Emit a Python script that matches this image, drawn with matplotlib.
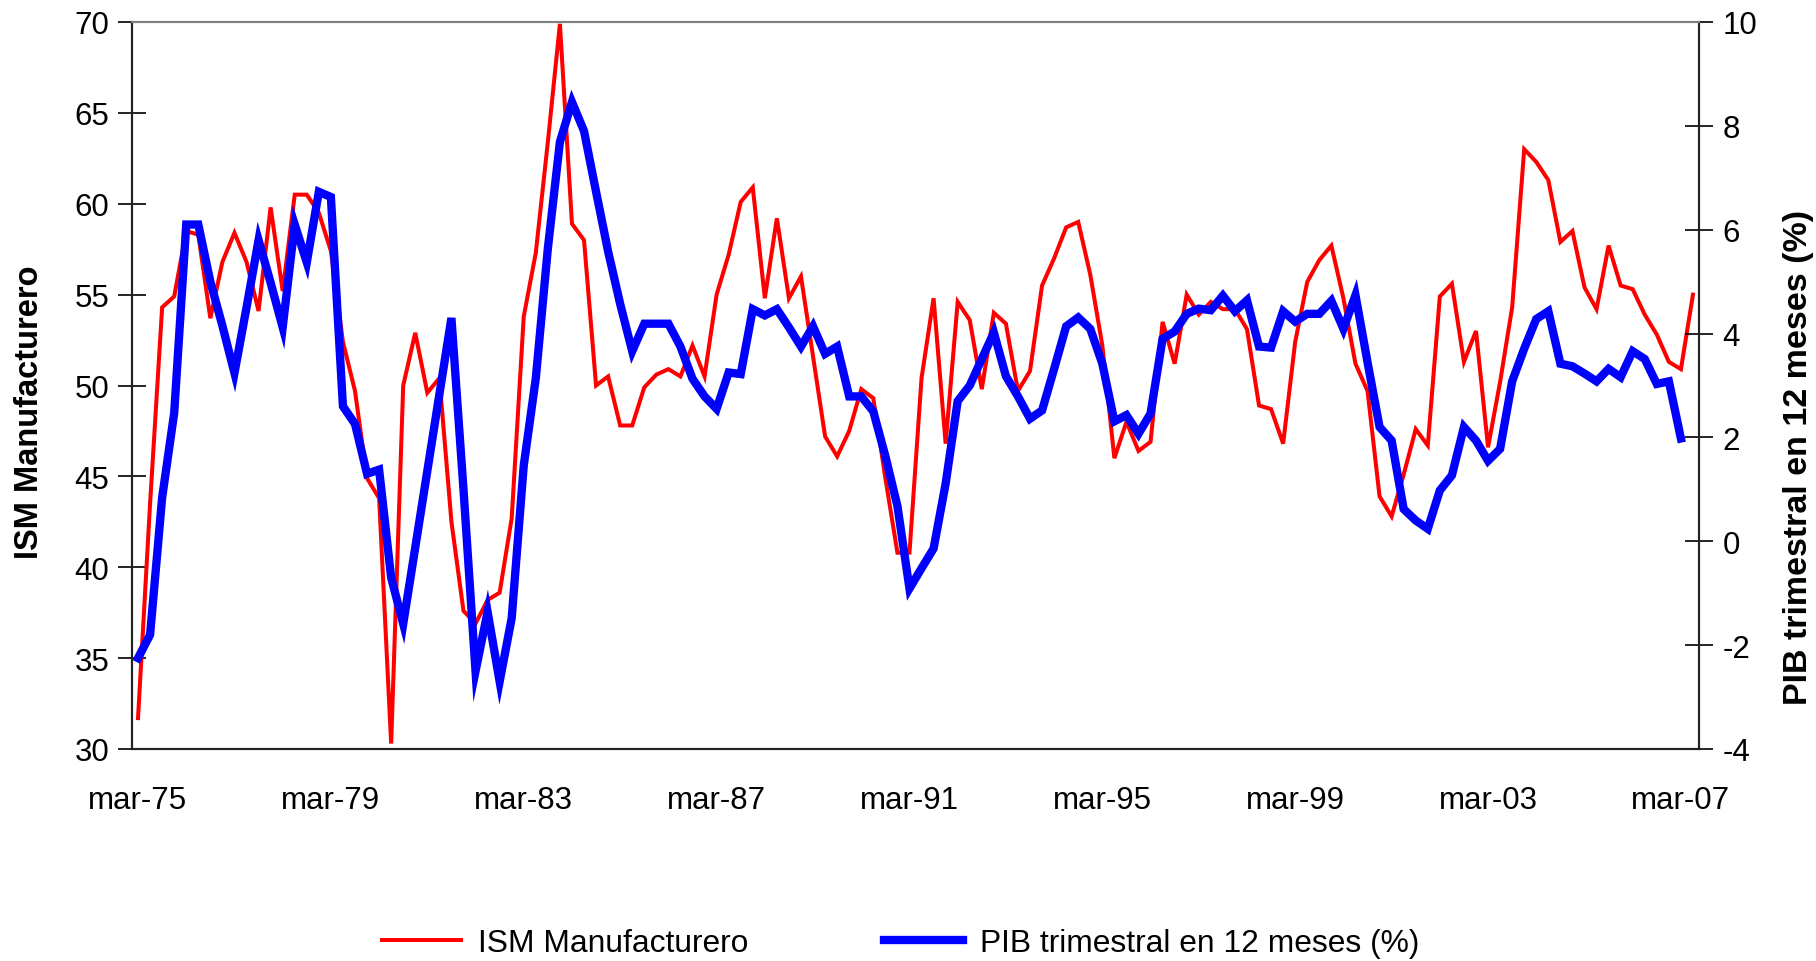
import numpy as np
import matplotlib
matplotlib.use("Agg")
import matplotlib.pyplot as plt
from matplotlib.ticker import FuncFormatter

plt.rcParams['font.family'] = ['Liberation Sans', 'DejaVu Sans']

# Quarterly data, mar-75 .. jun-07
tick_labels = ["mar-75", "mar-79", "mar-83", "mar-87", "mar-91",
               "mar-95", "mar-99", "mar-03", "mar-07"]

ism = [31.7, 43.5, 54.3, 54.9, 58.5, 58.3, 53.7, 56.8, 58.4, 56.8,
       54.1, 59.8, 55.2, 60.5, 60.5, 59.5, 57.4, 52.4, 49.7, 44.9,
       43.8, 30.3, 50.0, 52.9, 49.6, 50.4, 42.5, 37.6, 36.9, 38.2,
       38.6, 42.7, 53.8, 57.3, 63.4, 69.9, 58.9, 58.0, 50.0, 50.5,
       47.8, 47.8, 49.9, 50.6, 50.9, 50.5, 52.2, 50.5, 55.0, 57.2,
       60.1, 60.9, 54.8, 59.2, 54.8, 56.0, 51.6, 47.2, 46.1, 47.5,
       49.8, 49.3, 44.9, 40.8, 40.8, 50.4, 54.8, 46.8, 54.6, 53.6,
       49.8, 54.0, 53.4, 49.7, 50.8, 55.5, 57.0, 58.7, 59.0, 56.1,
       52.2, 46.0, 48.0, 46.4, 46.9, 53.5, 51.2, 55.0, 53.9, 54.6,
       54.2, 54.2, 53.1, 48.9, 48.7, 46.8, 52.4, 55.7, 56.9, 57.7,
       54.8, 51.2, 49.7, 43.9, 42.8, 45.1, 47.6, 46.7, 54.9, 55.6,
       51.3, 53.0, 46.6, 50.2, 54.3, 63.0, 62.3, 61.3, 57.9, 58.5,
       55.4, 54.2, 57.7, 55.5, 55.3, 53.9, 52.8, 51.3, 50.9, 55.0]

pib = [-2.25, -1.8, 0.84, 2.47, 6.1, 6.1, 5.0, 4.15, 3.24, 4.5,
       5.8, 4.98, 4.12, 6.1, 5.37, 6.73, 6.63, 2.6, 2.26, 1.3,
       1.38, -0.7, -1.59, -0.12, 1.35, 2.83, 4.3, 1.0, -2.5, -1.36,
       -2.7, -1.48, 1.46, 3.14, 5.64, 7.69, 8.46, 7.9, 6.73, 5.58,
       4.57, 3.66, 4.19, 4.19, 4.19, 3.75, 3.13, 2.79, 2.55, 3.25,
       3.22, 4.47, 4.35, 4.47, 4.12, 3.75, 4.14, 3.61, 3.75, 2.79,
       2.79, 2.5, 1.64, 0.68, -0.91, -0.52, -0.14, 1.11, 2.7, 3.0,
       3.51, 4.02, 3.18, 2.79, 2.36, 2.52, 3.32, 4.14, 4.31, 4.09,
       3.42, 2.31, 2.43, 2.07, 2.46, 3.9, 4.04, 4.38, 4.48, 4.45,
       4.73, 4.43, 4.64, 3.75, 3.73, 4.43, 4.23, 4.38, 4.38, 4.63,
       4.09, 4.74, 3.45, 2.2, 1.94, 0.62, 0.4, 0.24, 0.98, 1.27,
       2.2, 1.94, 1.55, 1.78, 3.08, 3.71, 4.28, 4.43, 3.42, 3.37,
       3.23, 3.08, 3.32, 3.16, 3.66, 3.51, 3.03, 3.08, 1.98]

W, H = 1816, 962
fig = plt.figure(figsize=(W / 100, H / 100), dpi=100)
L, R, T, B = 132, 1699, 23, 750
ax1 = fig.add_axes([L / W, 1 - B / H, (R - L) / W, (B - T) / H])
ax2 = ax1.twinx()

x1 = np.arange(len(ism))
x2 = np.arange(len(pib))
l1, = ax1.plot(x1, ism, color="#FF0000", lw=2.9, solid_joinstyle="miter",
               label="ISM Manufacturero")
l2, = ax2.plot(x2, pib, color="#0000FF", lw=6.0, solid_joinstyle="miter",
               label="PIB trimestral en 12 meses (%)")

ax1.set_xlim(-0.5, len(ism) - 0.5)
ax1.set_ylim(30, 70)
ax2.set_ylim(-4, 10)
ax1.set_yticks(np.arange(30, 71, 5))
ax2.set_yticks(np.arange(-4, 11, 2))
ax2.yaxis.set_major_formatter(FuncFormatter(lambda v, p: f"{int(round(v))}"))

ax1.set_xticks(np.arange(0, len(ism), 16))
ax1.set_xticklabels(tick_labels)

ax1.tick_params(axis="x", length=0, pad=26, labelsize=22.5)
ax1.tick_params(axis="y", direction="inout", length=20, width=1.2, pad=6.5, labelsize=22.5)
ax2.tick_params(axis="y", direction="inout", length=20, width=1.2, pad=7, labelsize=22.5)

for ax in (ax1, ax2):
    ax.spines["top"].set_color("#808080")
    ax.spines["top"].set_linewidth(1.5)
    for s in ("left", "right", "bottom"):
        ax.spines[s].set_color("#222222")
        ax.spines[s].set_linewidth(1.5)

fig.text(30 / W, 1 - 412 / H, "ISM Manufacturero", rotation=90, fontsize=23.5,
         fontweight="bold", ha="center", va="center")
fig.text(1799 / W, 1 - 457 / H, "PIB trimestral en 12 meses (%)", rotation=90,
         fontsize=24.5, fontweight="bold", ha="center", va="center")

fig.legend(handles=[l1, l2], loc="center", bbox_to_anchor=(0.496, 1 - 944 / H),
           ncol=2, frameon=False, fontsize=22.9, handlelength=2.48,
           handletextpad=0.55, columnspacing=4.26)

fig.savefig("out.png", dpi=100)
